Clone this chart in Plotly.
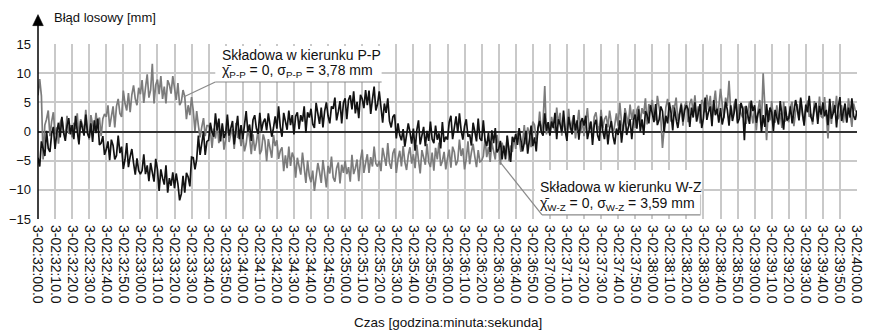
import plotly.graph_objects as go

# sampling times [s] from 3-02:32:00.0 (every 1 s)
time_s = list(range(0, 481))

# Składowa w kierunku P-P (grey) [mm], one row = 20 s
pp_values = [
    6.2, 9.0, 6.1, -4.8, 1.1, 2.1, 3.6, -0.8, 1.7, 3.3, -0.5, 0.7, -2.1, 1.5, 2.3, 0.0, -0.9, 2.7, -0.4, 1.1,
    -1.0, 1.5, 0.4, 3.1, -1.4, 2.1, 1.2, -0.1, 3.7, 0.3, -1.4, 2.8, 1.2, -0.1, 3.2, 0.7, 2.4, -0.8, 2.2, 3.0,
    2.5, 4.5, 0.8, 2.4, 4.3, 0.7, 4.3, 5.6, 3.1, 2.5, 7.0, 4.8, 3.6, 6.6, 3.3, 6.3, 7.9, 5.6, 4.5, 7.5,
    6.4, 8.8, 4.9, 7.5, 9.8, 5.8, 7.1, 11.6, 4.8, 8.0, 8.9, 6.4, 9.5, 5.6, 7.7, 4.8, 8.8, 8.0, 6.5, 9.5,
    7.1, 5.4, 8.3, 4.5, 5.1, 7.1, 6.0, 2.1, 4.5, 2.8, 5.9, 3.6, 0.1, 3.5, 1.0, -1.0, 0.8, 2.3, -0.8, 1.0,
    1.0, 0.3, -2.8, 0.5, -1.2, 1.4, -2.0, -0.6, 1.0, -3.1, -1.5, 2.0, -1.8, -0.4, 0.4, -3.0, 1.5, -1.1, -0.1, -2.5,
    -0.5, -3.4, -2.1, 0.4, -1.1, -3.9, -0.5, -3.3, -1.9, 0.4, -3.9, -3.2, -0.5, -1.6, -5.1, -1.3, -3.1, -4.5, -0.6, -2.5,
    -1.5, -4.7, -3.3, -2.7, -6.8, -4.1, -6.3, -2.6, -5.9, -3.6, -4.5, -7.9, -4.5, -6.0, -7.4, -3.6, -6.0, -8.8, -5.0, -7.6,
    -8.7, -6.7, -10.2, -7.7, -5.4, -6.9, -8.8, -4.9, -7.8, -9.6, -5.9, -7.2, -4.3, -7.9, -8.6, -6.3, -5.3, -8.9, -5.7, -7.1,
    -5.0, -7.3, -6.1, -8.6, -4.0, -7.3, -6.3, -4.8, -8.5, -4.9, -3.1, -7.1, -5.4, -3.9, -7.1, -4.4, -6.0, -2.6, -5.5, -6.0,
    -5.0, -6.8, -2.8, -4.2, -5.9, -2.0, -5.4, -6.4, -3.7, -2.9, -7.1, -4.7, -3.3, -6.0, -2.5, -5.2, -6.6, -4.1, -2.7, -5.5,
    -3.9, -6.3, -2.3, -4.9, -7.2, -3.2, -4.4, -5.7, -2.1, -5.3, -6.1, -3.6, -6.7, -2.8, -4.8, -1.9, -5.9, -5.1, -3.5, -6.5,
    -4.6, -3.1, -6.2, -2.6, -3.5, -5.8, -5.0, -1.4, -4.2, -2.9, -6.5, -4.7, -1.7, -5.6, -3.6, -2.1, -4.3, -6.1, -3.2, -5.2,
    -5.0, -4.2, -1.2, -4.4, -2.7, -5.2, -1.9, -3.2, -4.8, -0.6, -2.3, -5.7, -1.9, -3.2, -4.1, -0.6, -5.1, -2.4, -3.5, -1.0,
    -3.0, 0.0, -1.2, -3.5, -1.9, 1.1, -2.2, 0.7, -0.5, -2.7, 1.7, 1.1, -1.4, -0.2, 3.4, -0.2, 1.7, 7.8, -0.5, 1.5,
    -0.5, 2.5, 0.9, 0.1, 4.1, 1.2, 3.2, -0.7, 2.4, -0.1, 0.7, 3.9, 0.3, 1.6, 2.8, -1.2, 1.1, 3.7, -0.3, 2.1,
    -0.8, 2.2, 4.0, 0.4, 1.7, -1.1, 2.5, 3.3, 1.0, 0.1, 3.7, 0.6, 2.1, 2.7, 0.7, 3.6, 1.8, -0.4, 1.1, 3.1,
    1.0, 4.9, 1.5, -0.2, 4.0, 2.5, 1.2, 4.6, 2.0, 3.8, 0.6, 3.7, 4.4, 1.5, 4.0, 3.0, 5.7, 1.2, 4.7, 3.9,
    5.4, 2.7, 1.9, 6.1, 3.7, 2.3, -2.8, 1.5, 4.2, 5.6, 3.1, 1.7, 4.5, 4.0, 5.8, 1.8, 3.2, 4.9, 1.0, 4.4,
    5.2, 1.6, 4.8, 5.6, 3.1, 6.2, 2.3, 4.3, 1.4, 5.4, 4.9, 3.3, 6.3, 3.7, 6.1, 2.1, 4.7, 7.0, 3.0, 4.2,
    7.3, 4.2, 2.3, 5.8, 4.4, 8.7, 3.4, 2.5, 4.7, 5.5, 1.7, 4.7, 3.1, 2.4, 4.3, 1.3, 3.0, 5.1, 3.5, 1.4,
    4.0, 0.2, 3.7, 5.4, 1.3, 10.0, 4.3, -1.5, 3.6, 1.9, 5.2, 2.2, 1.5, 4.5, 2.1, 3.2, 0.6, 5.1, 1.7, 2.6,
    1.6, 4.3, 5.1, 0.9, 3.3, 4.7, 2.0, 5.5, 2.8, 1.4, 3.9, 5.3, 2.5, 3.0, 1.2, 5.2, 3.8, 2.1, 6.0, 2.6,
    2.3, 5.9, 2.7, -1.2, 4.4, 1.3, 5.2, 3.2, 6.1, 2.1, 2.9, 4.5, 1.5, 4.1, 1.7, 5.7, 3.1, 0.8, 4.8, 3.6,
    3.2,
]

# Składowa w kierunku W-Z (black) [mm], one row = 20 s
wz_values = [
    -4.5, -6.0, -1.7, -2.8, -4.2, 0.1, -2.9, -3.5, -0.4, 0.8, -3.0, -0.2, 1.5, -1.0, 2.5, -0.2, -1.6, 0.9, 2.3, -0.5,
    1.1, -1.3, 2.7, 0.1, -2.2, 1.8, 0.6, -0.7, 2.9, -0.3, -1.1, 1.4, -1.8, 1.9, -0.3, 2.2, -2.3, -2.0, -0.8, -4.0,
    -3.1, -1.7, -4.9, -1.4, -2.4, -4.8, -4.1, -0.7, -3.7, -2.6, -6.4, -4.8, -2.0, -6.1, -4.3, -3.0, -5.4, -7.4, -4.6, -6.7,
    -7.3, -6.7, -3.9, -7.3, -5.8, -8.5, -5.4, -6.9, -8.6, -4.7, -6.5, -10.2, -6.5, -8.0, -9.1, -5.8, -10.5, -8.0, -9.3, -7.0,
    -9.7, -7.2, -9.0, -11.8, -10.7, -7.6, -10.5, -7.1, -7.8, -9.4, -4.4, -4.5, -6.5, -4.8, -0.7, -4.0, -1.8, 0.0, -4.0, -1.7,
    -1.5, 1.5, -0.1, -0.9, 3.1, 0.2, 2.2, -1.7, 1.4, -1.1, -0.3, 2.9, -0.7, 0.6, 1.8, -2.2, 0.1, 2.7, -1.3, 1.1,
    -1.3, 1.7, 3.5, -0.1, 1.2, -1.6, 2.0, 2.8, 0.5, -0.4, 3.2, 0.1, 1.6, 2.2, 0.2, 3.1, 1.3, -0.9, 0.6, 2.6,
    0.5, 4.3, 0.8, -0.9, 3.2, 1.6, 0.3, 3.6, 1.1, 2.8, -0.5, 2.6, 3.3, 0.4, 2.8, 1.7, 4.3, -0.2, 3.3, 2.4,
    3.9, 1.3, 0.6, 4.9, 2.6, 1.3, 4.1, 0.7, 3.5, 5.0, 2.7, 1.4, 4.3, 3.9, 5.8, 1.9, 3.4, 5.2, 1.4, 4.9,
    5.7, 2.1, 5.4, 6.2, 3.8, 6.9, 3.1, 5.1, 2.3, 6.3, 5.6, 4.0, 7.1, 4.5, 7.0, 3.0, 5.5, 7.7, 3.6, 4.7,
    6.9, 3.6, 1.5, 4.8, 3.2, 5.7, 1.8, 0.7, 2.5, 2.9, -1.2, 1.4, -0.6, -1.5, 0.4, -2.6, -0.8, 1.4, -0.1, -2.1,
    0.5, -3.3, 0.2, 1.9, -2.2, -0.6, 0.8, -2.5, 0.1, -1.6, 1.7, -1.3, -2.0, 1.0, -1.4, -0.3, -2.9, 1.6, -1.8, -0.9,
    -1.4, 1.6, 2.7, -1.3, 1.2, 2.6, -0.2, 3.1, 0.2, -1.4, 0.9, 2.1, -0.9, -0.5, -2.4, 1.5, 0.0, -1.7, 2.2, -1.2,
    -1.6, 1.9, -1.5, -2.5, -0.2, -3.5, 0.2, -2.0, 0.6, -3.6, -3.0, -1.6, -4.8, -2.4, -4.8, -0.8, -3.2, -5.2, -0.9, -1.8,
    -0.4, -2.3, 0.6, -1.2, -3.4, -1.9, 0.1, -3.8, -0.8, 1.0, -2.5, -1.0, -3.4, 0.6, 1.8, -0.1, -0.7, 3.1, 0.1, 1.6,
    -0.7, 1.7, 0.6, 3.2, -1.3, 2.1, 1.2, -0.2, 3.6, 0.1, -1.6, 2.5, 0.9, -0.5, 2.8, 0.2, 1.9, -1.4, 1.6, 2.3,
    1.0, 2.7, -1.3, 0.0, 1.7, -2.3, 1.1, 2.0, -0.7, -1.6, 2.6, 0.1, -1.3, 1.3, -2.2, 0.4, 1.8, -0.8, -2.2, 0.5,
    -0.6, 1.9, -1.9, 0.8, 3.2, -0.6, 0.7, 2.1, -1.3, 2.0, 2.9, 0.5, 3.8, 0.0, 2.1, -0.6, 3.5, 2.8, 1.4, 4.5,
    3.1, 1.6, 4.7, 1.1, 2.0, 4.3, 3.5, -0.1, 2.7, 1.4, 5.0, 3.2, 0.2, 4.1, 2.1, 0.6, 2.8, 4.6, 1.7, 3.7,
    4.5, 3.8, 0.8, 4.1, 2.4, 5.0, 1.7, 3.1, 4.7, 0.6, 2.3, 5.8, 2.0, 3.4, 4.3, 0.9, 5.4, 2.8, 3.9, 1.5,
    4.0, 1.2, 2.6, 5.1, 3.7, 1.0, 4.5, 1.8, 3.2, 5.6, 1.4, 2.2, 4.9, 3.9, -1.5, 4.4, 2.7, 1.3, 5.3, 3.5,
    4.5, 1.5, 3.1, 3.9, -0.1, 2.8, 0.8, 4.7, 1.6, 4.1, 3.3, 0.1, 3.7, 2.4, 1.2, 5.2, 2.9, 0.3, 4.3, 1.9,
    2.3, 4.3, 1.4, 3.2, 5.4, 3.9, 1.9, 5.8, 2.8, 1.0, 4.6, 3.3, 6.1, 2.5, 1.7, 4.0, 4.9, 1.3, 4.4, 2.9,
    5.0, 2.6, 3.7, 1.1, 5.6, 2.2, 3.1, 4.5, 0.7, 4.2, 5.9, 1.8, 3.4, 4.8, 1.5, 4.1, 2.4, 5.7, 2.7, 2.0,
    3.6,
]

tick_labels = [
    "3-02:32:00.0", "3-02:32:10.0", "3-02:32:20.0", "3-02:32:30.0", "3-02:32:40.0", "3-02:32:50.0",
    "3-02:33:00.0", "3-02:33:10.0", "3-02:33:20.0", "3-02:33:30.0", "3-02:33:40.0", "3-02:33:50.0",
    "3-02:34:00.0", "3-02:34:10.0", "3-02:34:20.0", "3-02:34:30.0", "3-02:34:40.0", "3-02:34:50.0",
    "3-02:35:00.0", "3-02:35:10.0", "3-02:35:20.0", "3-02:35:30.0", "3-02:35:40.0", "3-02:35:50.0",
    "3-02:36:00.0", "3-02:36:10.0", "3-02:36:20.0", "3-02:36:30.0", "3-02:36:40.0", "3-02:36:50.0",
    "3-02:37:00.0", "3-02:37:10.0", "3-02:37:20.0", "3-02:37:30.0", "3-02:37:40.0", "3-02:37:50.0",
    "3-02:38:00.0", "3-02:38:10.0", "3-02:38:20.0", "3-02:38:30.0", "3-02:38:40.0", "3-02:38:50.0",
    "3-02:39:00.0", "3-02:39:10.0", "3-02:39:20.0", "3-02:39:30.0", "3-02:39:40.0", "3-02:39:50.0",
    "3-02:40:00.0",
]
tick_vals = [10 * i for i in range(len(tick_labels))]
y_ticks = [-15, -10, -5, 0, 5, 10, 15]

FONT = "Liberation Sans, Arial, sans-serif"

fig = go.Figure()
fig.add_trace(go.Scatter(x=time_s, y=pp_values, mode="lines",
                         line=dict(color="#7c7c7c", width=1.7), showlegend=False))
fig.add_trace(go.Scatter(x=time_s, y=wz_values, mode="lines",
                         line=dict(color="#121212", width=1.7), showlegend=False))

# white label boxes (hide grid)
fig.add_shape(type="rect", x0=103.9, x1=201.4, y0=8.49, y1=14.66, xref="x", yref="y",
              fillcolor="white", line=dict(width=0), layer="between")
fig.add_shape(type="rect", x0=291.3, x1=388.3, y0=-14.3, y1=-6.6, xref="x", yref="y",
              fillcolor="white", line=dict(width=0), layer="between")
# underlines and leader lines
fig.add_shape(type="line", x0=103.9, x1=201.4, y0=8.49, y1=8.49,
              line=dict(color="#8a8a8a", width=1.2))
fig.add_shape(type="line", x0=103.9, x1=85.3, y0=8.49, y1=5.9,
              line=dict(color="#8a8a8a", width=1.2))
fig.add_shape(type="line", x0=295.4, x1=388.3, y0=-14.3, y1=-14.3,
              line=dict(color="#8a8a8a", width=1.2))
fig.add_shape(type="line", x0=388.3, x1=388.3, y0=-14.3, y1=-10.8,
              line=dict(color="#c8c8c8", width=1.2))
fig.add_shape(type="line", x0=295.4, x1=269.9, y0=-14.3, y1=-4.89,
              line=dict(color="#8a8a8a", width=1.2))

# y axis line with arrow
fig.add_shape(type="line", xref="paper", yref="paper", x0=0, x1=0, y0=0, y1=1.11,
              line=dict(color="black", width=1.5))
fig.add_shape(type="path", xref="paper", yref="paper",
              path="M -0.0065,1.105 L 0.0065,1.105 L 0,1.168 Z",
              fillcolor="black", line=dict(color="black", width=0.5))

ann_font = dict(family=FONT, size=14, color="#111111")
fig.add_annotation(x=106.8, y=13.1, xref="x", yref="y", text="Składowa w kierunku P-P",
                   showarrow=False, xanchor="left", yanchor="middle", font=ann_font)
fig.add_annotation(x=106.8, y=10.4, xref="x", yref="y",
                   text="χ\u0304<sub>P-P</sub> = 0, σ<sub>P-P</sub> = 3,78 mm",
                   showarrow=False, xanchor="left", yanchor="middle", font=ann_font)
fig.add_annotation(x=293.1, y=-9.5, xref="x", yref="y", text="Składowa w kierunku W-Z",
                   showarrow=False, xanchor="left", yanchor="middle", font=ann_font)
fig.add_annotation(x=293.1, y=-12.4, xref="x", yref="y",
                   text="χ\u0304<sub>W-Z</sub> = 0, σ<sub>W-Z</sub> = 3,59 mm",
                   showarrow=False, xanchor="left", yanchor="middle", font=ann_font)

fig.add_annotation(x=0.017, y=1.15, xref="paper", yref="paper", text="Błąd losowy [mm]",
                   showarrow=False, xanchor="left", yanchor="middle",
                   font=dict(family=FONT, size=13, color="#111111"))
fig.add_annotation(x=0.5, y=-0.589, xref="paper", yref="paper",
                   text="Czas [godzina:minuta:sekunda]",
                   showarrow=False, xanchor="center", yanchor="middle",
                   font=dict(family=FONT, size=13.5, color="#111111"))

fig.update_layout(
    width=871, height=330,
    margin=dict(l=38, r=6, t=44, b=111),
    paper_bgcolor="white", plot_bgcolor="white",
    font=dict(family=FONT, color="#111111"),
    showlegend=False,
)
fig.update_xaxes(range=[0, 480], tickmode="array", tickvals=tick_vals, ticktext=tick_labels,
                 tickangle=90, tickfont=dict(family=FONT, size=14, color="#111111"),
                 ticklabeloverflow="allow",
                 showgrid=True, gridcolor="#c9c9c9", gridwidth=1.5,
                 zeroline=False, showline=False, ticks="", ticklabelstandoff=5)
fig.update_yaxes(range=[-15, 15], tickmode="array", tickvals=y_ticks,
                 tickfont=dict(family=FONT, size=13, color="#111111"),
                 showgrid=True, gridcolor="#c9c9c9", gridwidth=1.5,
                 zeroline=True, zerolinecolor="#333333", zerolinewidth=1.5,
                 showline=False, ticks="", ticklabelstandoff=6)

fig.write_html("out.html")
